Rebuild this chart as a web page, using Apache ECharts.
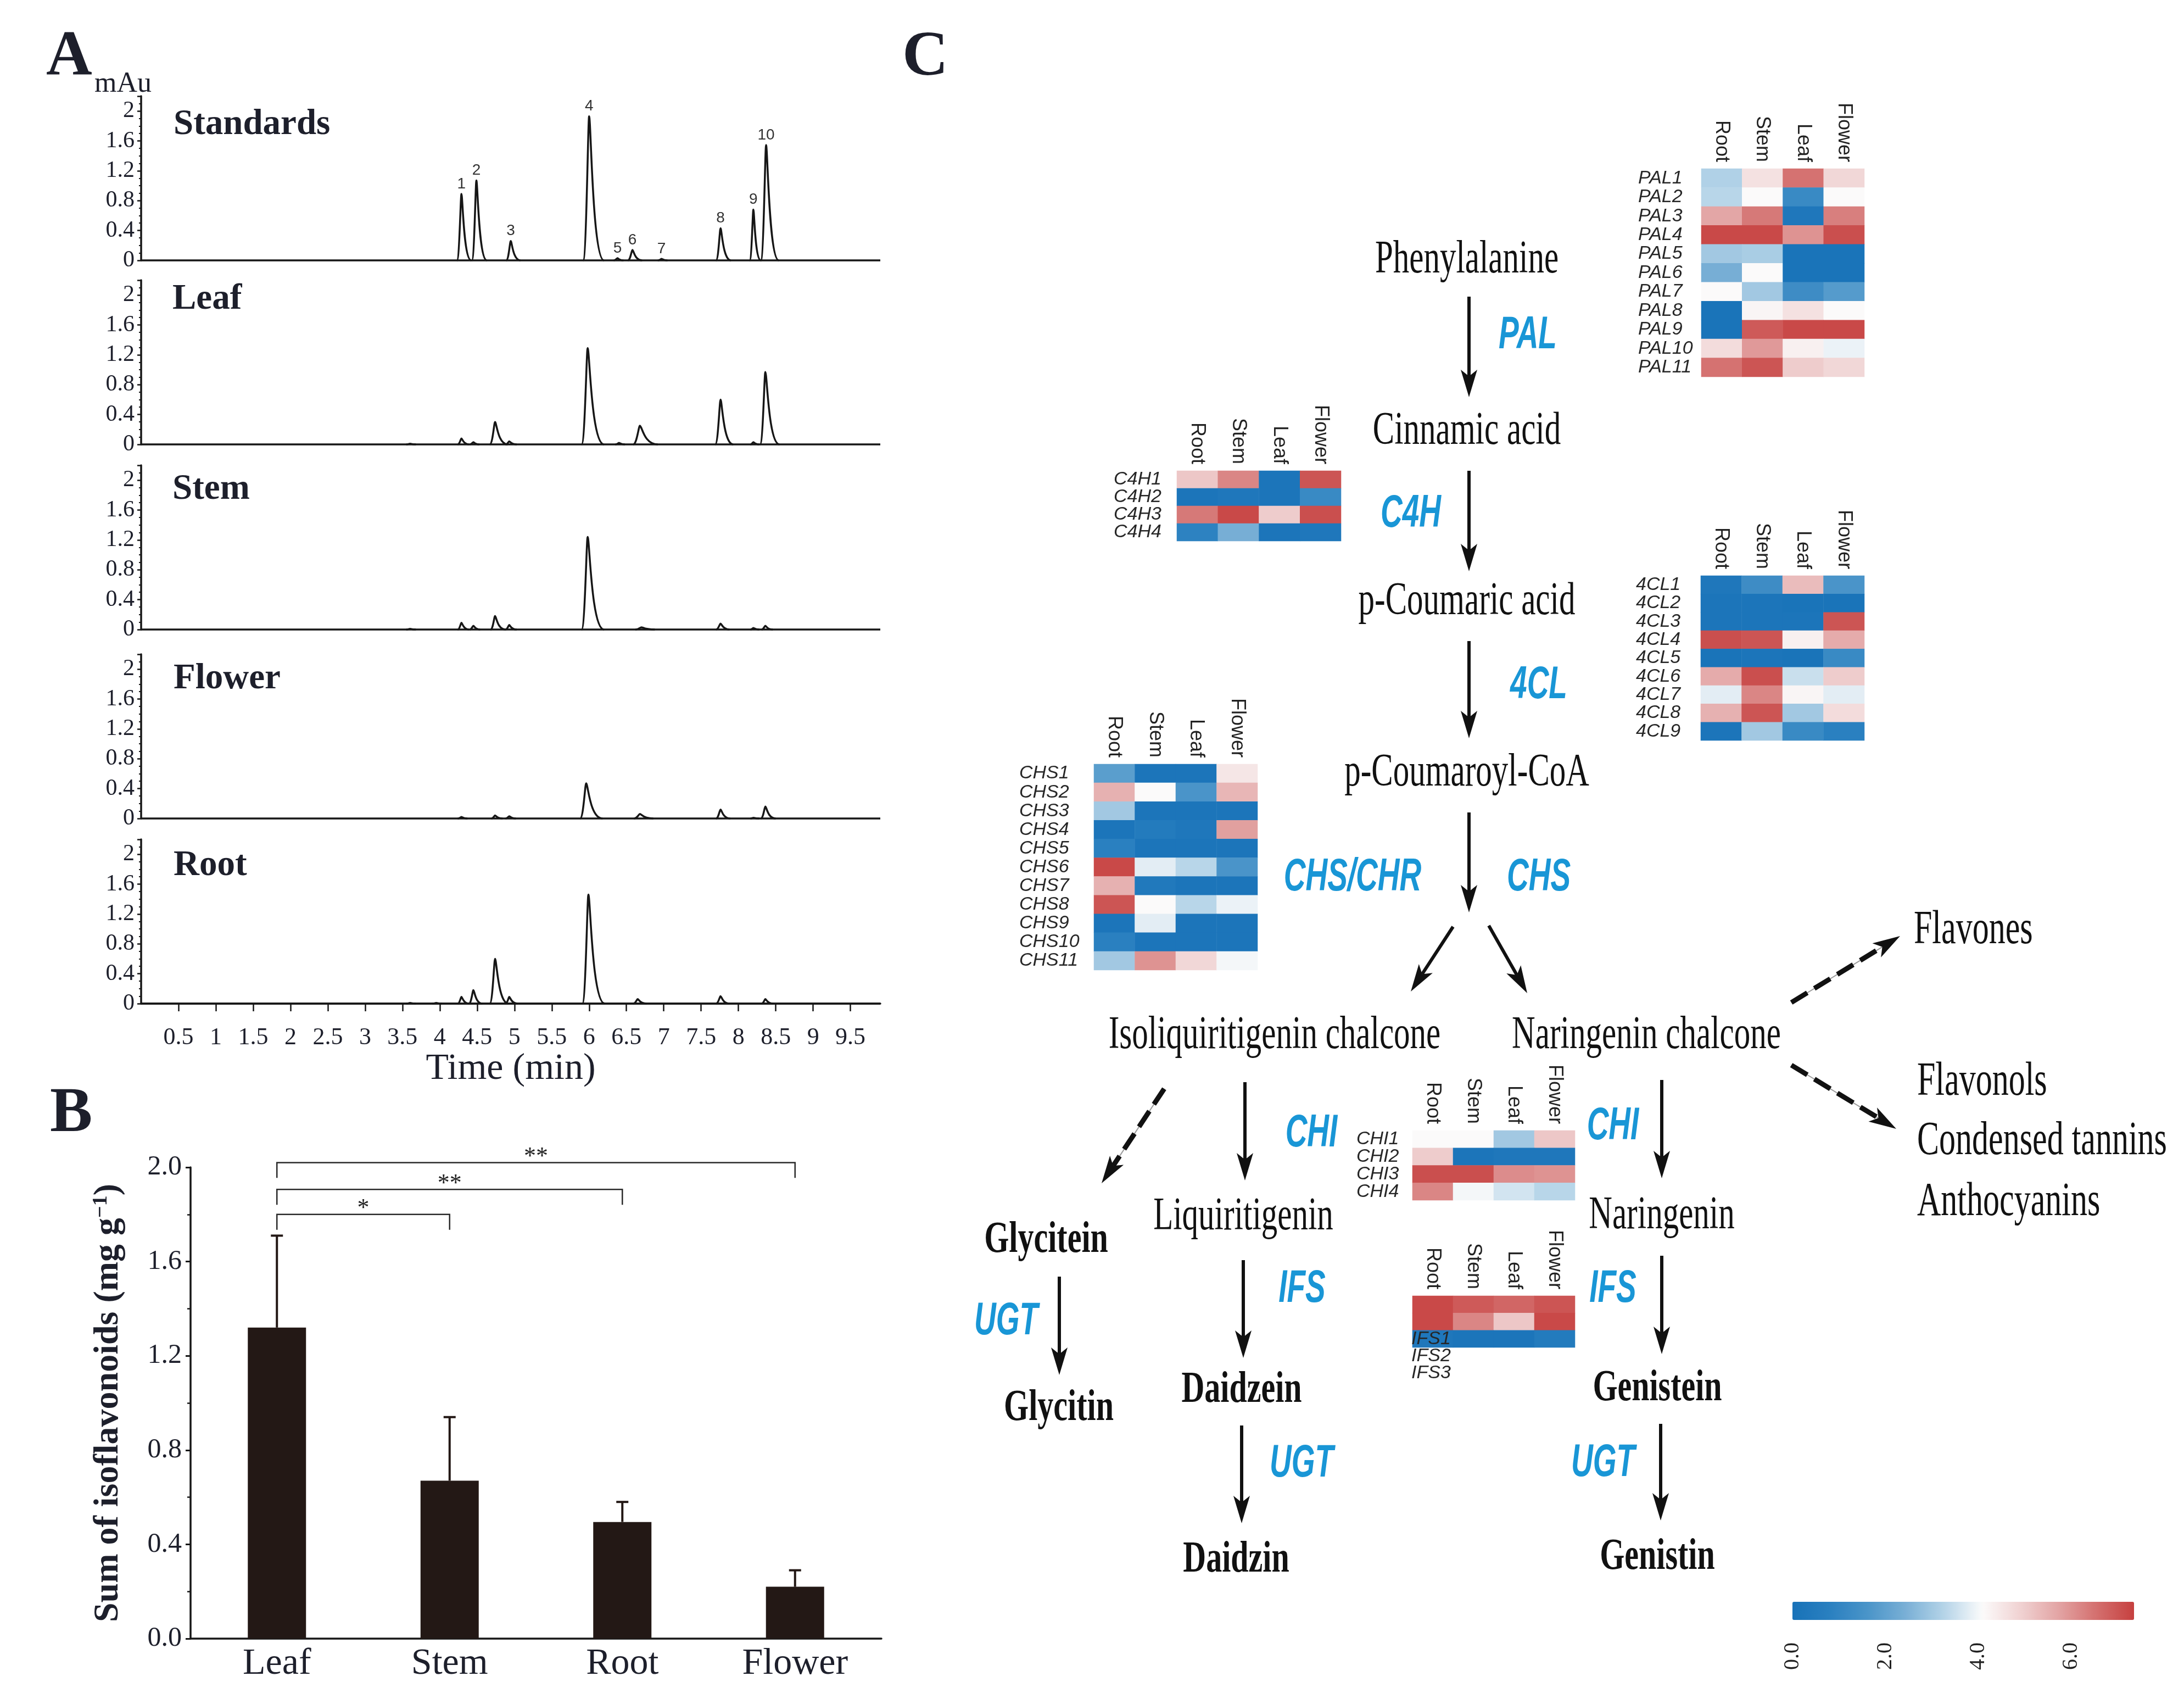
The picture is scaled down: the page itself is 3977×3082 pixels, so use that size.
<!DOCTYPE html>
<html>
<head>
<meta charset="utf-8">
<title>Isoflavonoid figure</title>
<script src="https://cdn.jsdelivr.net/npm/echarts@6.0.0/dist/echarts.min.js"></script>
<style>
html,body{margin:0;padding:0;background:#ffffff;}
#chart{width:3977px;height:3082px;}
</style>
</head>
<body>
<div id="chart"></div>
<script>
// ================= DATA =================
// ---- Panel A: HPLC chromatograms ----
const traceNames = ['Standards', 'Leaf', 'Stem', 'Flower', 'Root'];
// peaks: [retention time (min), height (mAu), left base width (min), right tail width (min)]
const peaksStandards = [
  [4.29, 0.89, 0.06, 0.13], [4.49, 1.07, 0.06, 0.14], [4.95, 0.26, 0.06, 0.13],
  [6.00, 1.93, 0.08, 0.20], [6.38, 0.03, 0.05, 0.08], [6.58, 0.14, 0.06, 0.13],
  [6.97, 0.02, 0.05, 0.08], [7.76, 0.43, 0.06, 0.14], [8.20, 0.68, 0.05, 0.10],
  [8.37, 1.545, 0.07, 0.17]
];
const standardPeakLabels = ['1', '2', '3', '4', '5', '6', '7', '8', '9', '10'];
const peaksLeaf = [
  [3.60, 0.01, 0.05, 0.08], [4.29, 0.08, 0.05, 0.10], [4.45, 0.03, 0.05, 0.08],
  [4.74, 0.30, 0.07, 0.17], [4.93, 0.04, 0.05, 0.10], [5.98, 1.29, 0.08, 0.22],
  [6.40, 0.02, 0.05, 0.08], [6.68, 0.25, 0.09, 0.24], [7.76, 0.60, 0.07, 0.17],
  [8.20, 0.03, 0.04, 0.08], [8.36, 0.97, 0.07, 0.19]
];
const peaksStem = [
  [3.60, 0.01, 0.05, 0.08], [4.29, 0.09, 0.05, 0.10], [4.45, 0.05, 0.05, 0.09],
  [4.74, 0.18, 0.06, 0.14], [4.93, 0.06, 0.05, 0.10], [5.98, 1.24, 0.08, 0.22],
  [6.70, 0.03, 0.08, 0.18], [7.76, 0.08, 0.06, 0.12], [8.20, 0.02, 0.04, 0.08],
  [8.36, 0.05, 0.05, 0.10]
];
const peaksFlower = [
  [4.29, 0.02, 0.05, 0.08], [4.74, 0.04, 0.05, 0.10], [4.93, 0.03, 0.05, 0.09],
  [5.96, 0.47, 0.08, 0.22], [6.68, 0.06, 0.08, 0.18], [7.76, 0.12, 0.06, 0.13],
  [8.20, 0.01, 0.04, 0.08], [8.36, 0.16, 0.06, 0.14]
];
const peaksRoot = [
  [3.60, 0.01, 0.05, 0.08], [3.95, 0.01, 0.05, 0.08], [4.29, 0.09, 0.05, 0.10],
  [4.45, 0.18, 0.06, 0.12], [4.74, 0.60, 0.07, 0.18], [4.93, 0.09, 0.05, 0.11],
  [5.99, 1.46, 0.08, 0.22], [6.65, 0.06, 0.06, 0.12], [7.76, 0.10, 0.06, 0.12],
  [8.36, 0.06, 0.05, 0.11]
];

// ---- Panel B: sum of isoflavonoids ----
const tissues = ['Leaf', 'Stem', 'Root', 'Flower'];
const isoSum = [1.32, 0.67, 0.495, 0.22];
const isoSd = [0.39, 0.27, 0.085, 0.07];
const sigPairs = [[0, 1], [0, 2], [0, 3]];
const sigLevels = [1.80, 1.906, 2.02];
const sigMarks = ['*', '**', '**'];
const sigDrop = 0.065;

// ---- Panel C: expression heatmaps ----
const heatCols = ['Root', 'Stem', 'Leaf', 'Flower'];
const palGenes = ['PAL1','PAL2','PAL3','PAL4','PAL5','PAL6','PAL7','PAL8','PAL9','PAL10','PAL11'];
const palValues = [
  [3.2, 4.6, 6.5, 4.8], [3.3, 4.1, 1.2, 4.1], [5.7, 6.4, 0.3, 6.3], [7.2, 7.2, 6.0, 7.1],
  [3.0, 3.1, 0.1, 0.1], [2.4, 4.1, 0.1, 0.1], [4.1, 3.0, 1.3, 1.8], [0.1, 4.2, 4.6, 4.1],
  [0.1, 6.9, 7.2, 7.2], [4.7, 5.9, 4.3, 3.9], [6.5, 7.0, 5.0, 4.8]
];
const c4hGenes = ['C4H1','C4H2','C4H3','C4H4'];
const c4hValues = [[5.1, 6.2, 0.2, 7.0], [0.2, 0.3, 0.2, 1.2], [6.4, 7.2, 5.0, 7.1], [0.9, 2.4, 0.2, 0.3]];
const fourClGenes = ['4CL1','4CL2','4CL3','4CL4','4CL5','4CL6','4CL7','4CL8','4CL9'];
const fourClValues = [
  [0.3, 1.3, 5.3, 1.6], [0.2, 0.2, 0.1, 0.1], [0.2, 0.2, 0.2, 7.0], [7.1, 7.0, 4.3, 5.6],
  [0.1, 0.2, 0.1, 1.2], [5.6, 7.1, 3.5, 5.0], [3.8, 6.2, 4.2, 3.8], [5.5, 7.0, 3.0, 4.7],
  [0.2, 3.0, 1.2, 0.8]
];
const chsGenes = ['CHS1','CHS2','CHS3','CHS4','CHS5','CHS6','CHS7','CHS8','CHS9','CHS10','CHS11'];
const chsValues = [
  [1.9, 0.2, 0.2, 4.5], [5.5, 4.1, 1.6, 5.4], [3.0, 0.2, 0.2, 0.2], [0.2, 0.5, 0.3, 5.8],
  [0.8, 0.2, 0.2, 0.2], [7.2, 3.8, 3.3, 1.6], [5.5, 0.4, 0.2, 0.2], [7.0, 4.1, 3.3, 3.9],
  [0.2, 3.8, 0.2, 0.2], [0.8, 0.2, 0.2, 0.2], [3.0, 6.0, 4.8, 4.0]
];
const chiGenes = ['CHI1','CHI2','CHI3','CHI4'];
const chiValues = [[4.1, 4.1, 3.0, 5.1], [5.0, 0.2, 0.3, 0.3], [7.1, 7.1, 6.1, 6.0], [6.2, 4.0, 3.6, 3.3]];
const ifsGenes = ['IFS1','IFS2','IFS3'];
const ifsValues = [[7.2, 6.9, 6.7, 7.0], [7.2, 6.2, 5.1, 7.2], [0.3, 0.2, 0.2, 0.5]];
const colorScaleMin = 0;
const colorScaleMax = 7.35;

// ---- Panel C: pathway ----
const compoundsRegular = ['Phenylalanine', 'Cinnamic acid', 'p-Coumaric acid', 'p-Coumaroyl-CoA',
  'Isoliquiritigenin chalcone', 'Naringenin chalcone', 'Liquiritigenin', 'Naringenin'];
const compoundsSide = ['Flavones', 'Flavonols', 'Condensed tannins', 'Anthocyanins'];
const compoundsBold = ['Glycitein', 'Glycitin', 'Daidzein', 'Daidzin', 'Genistein', 'Genistin'];
const enzymes = ['PAL', 'C4H', '4CL', 'CHS/CHR', 'CHS', 'CHI', 'CHI', 'IFS', 'IFS', 'UGT', 'UGT', 'UGT'];

// ================= LAYOUT / STYLE =================
const SERIF = '"Liberation Serif", "Times New Roman", serif';
const SANS = '"Liberation Sans", Arial, sans-serif';
const TXT = '#1d1f2b';
const INK = '#161616';
const BLUE = '#1996d6';

const layoutA = { left: 257, width: 1346, height: 299, bottoms: [474, 809, 1146, 1490, 1827],
  labelPos: [[316, 227], [314, 545], [314, 891], [316, 1236], [316, 1576]] };
const layoutB = { left: 347, top: 2125, width: 1258, height: 858 };
const heatBoxes = [
  { left: 3098, top: 307, width: 297, height: 379, labelStart: 2983 },
  { left: 2143, top: 857, width: 299, height: 128, labelStart: 2028 },
  { left: 3097, top: 1048, width: 298, height: 300, labelStart: 2979 },
  { left: 1992, top: 1391, width: 298, height: 375, labelStart: 1856 },
  { left: 2572, top: 2058, width: 296, height: 127, labelStart: 2470 },
  { left: 2572, top: 2359, width: 296, height: 94, labelStart: null }
];
const colorBarBox = { left: 3264, top: 2916, length: 622, thickness: 33 };

const grid = [], xAxis = [], yAxis = [], series = [], graphic = [];

// ================= PANEL A =================
const traces = [peaksStandards, peaksLeaf, peaksStem, peaksFlower, peaksRoot];

function peakRender(params, api) {
  const t = api.value(0), h = api.value(1), wl = api.value(2), wr = api.value(3);
  const p0 = api.coord([t - wl, 0]), pa = api.coord([t, h]), p1 = api.coord([t + wr, 0]);
  const dl = pa[0] - p0[0], dr = p1[0] - pa[0];
  const d = 'M' + p0[0] + ',' + p0[1] +
    ' C' + (p0[0] + 0.55 * dl) + ',' + p0[1] + ' ' + (pa[0] - 0.18 * dl) + ',' + pa[1] + ' ' + pa[0] + ',' + pa[1] +
    ' C' + (pa[0] + 0.12 * dr) + ',' + pa[1] + ' ' + (pa[0] + 0.22 * dr) + ',' + p1[1] + ' ' + p1[0] + ',' + p1[1];
  return { type: 'path', shape: { pathData: d }, style: { fill: 'none', stroke: INK, lineWidth: 3.5 } };
}

traces.forEach(function (pk, i) {
  const last = i === traces.length - 1;
  grid.push({ left: layoutA.left, width: layoutA.width, top: layoutA.bottoms[i] - layoutA.height,
    height: layoutA.height, containLabel: false, outerBoundsMode: 'none' });
  xAxis.push({
    type: 'value', gridIndex: i, min: 0, max: 9.9, interval: 0.5, show: last, offset: last ? 10 : 0,
    axisLine: { show: true, lineStyle: { color: INK, width: 3.5 } },
    axisTick: { show: true, length: 14, lineStyle: { color: INK, width: 2.5 } },
    axisLabel: { showMinLabel: false, showMaxLabel: false, fontFamily: SERIF, fontSize: 44, color: TXT, margin: 30,
      formatter: function (v) { return String(v); } },
    splitLine: { show: false },
    name: last ? 'Time (min)' : '', nameLocation: 'middle', nameGap: 74,
    nameTextStyle: { fontFamily: SERIF, fontSize: 68, color: TXT, verticalAlign: 'top' }
  });
  yAxis.push({
    type: 'value', gridIndex: i, min: 0, max: 2.2, interval: 0.4,
    axisLine: { show: true, lineStyle: { color: INK, width: 3.5 } },
    axisTick: { show: true, length: 7, lineStyle: { color: INK, width: 2.5 } },
    minorTick: { show: true, splitNumber: 4, length: 4, lineStyle: { color: INK, width: 2 } },
    axisLabel: { fontFamily: SERIF, fontSize: 42, color: TXT, margin: 12,
      formatter: function (v) { return v > 2.1 ? '' : String(v); } },
    splitLine: { show: false }, minorSplitLine: { show: false }
  });
  series.push({
    type: 'custom', name: traceNames[i], xAxisIndex: i, yAxisIndex: i, data: pk,
    encode: { x: 0, y: 1 }, renderItem: peakRender, silent: true, z: 3,
    markLine: { silent: true, symbol: ['none', 'none'], label: { show: false },
      lineStyle: { color: INK, width: 3.5, type: 'solid' }, data: [{ yAxis: 0 }] }
  });
  graphic.push({ type: 'text', x: layoutA.labelPos[i][0], y: layoutA.labelPos[i][1], z: 100,
    style: { text: traceNames[i], font: 'bold 65px ' + SERIF, fill: TXT,
      textAlign: 'left', textVerticalAlign: 'middle', align: 'left', verticalAlign: 'middle' } });
});

// peak number labels on the standards trace
series.push({
  type: 'custom', xAxisIndex: 0, yAxisIndex: 0, data: peaksStandards, encode: { x: 0, y: 1 }, silent: true, z: 4,
  renderItem: function (params, api) {
    const p = api.coord([api.value(0), api.value(1)]);
    return { type: 'text', x: p[0], y: p[1] - 4,
      style: { text: standardPeakLabels[params.dataIndex], font: '28px ' + SANS, fill: '#333',
        textAlign: 'center', textVerticalAlign: 'bottom', align: 'center', verticalAlign: 'bottom' } };
  }
});

// ================= PANEL B =================
const gB = grid.length;
grid.push({ left: layoutB.left, top: layoutB.top, width: layoutB.width, height: layoutB.height,
  containLabel: false, outerBoundsMode: 'none' });
xAxis.push({
  type: 'category', gridIndex: gB, data: tissues,
  axisLine: { show: true, lineStyle: { color: INK, width: 3.5 } }, axisTick: { show: false },
  axisLabel: { interval: 0, fontFamily: SERIF, fontSize: 68, color: TXT, margin: 12 }
});
yAxis.push({
  type: 'value', gridIndex: gB, min: 0, max: 2.0, interval: 0.4,
  axisLine: { show: true, lineStyle: { color: INK, width: 3.5 } },
  axisTick: { show: true, length: 9, lineStyle: { color: INK, width: 3 } },
  minorTick: { show: true, splitNumber: 2, length: 6, lineStyle: { color: INK, width: 2.5 } },
  axisLabel: { fontFamily: SERIF, fontSize: 50, color: TXT, margin: 16, formatter: function (v) { return v.toFixed(1); } },
  splitLine: { show: false }, minorSplitLine: { show: false },
  name: 'Sum of isoflavonoids (mg g{sup|\u22121})', nameLocation: 'middle', nameRotate: 90, nameGap: 118,
  nameTextStyle: { fontFamily: SERIF, fontSize: 64, fontWeight: 'bold', color: TXT,
    rich: { sup: { fontFamily: SERIF, fontSize: 38, fontWeight: 'bold', color: TXT, verticalAlign: 'top', padding: [0, 0, 22, 0] } } }
});
series.push({
  type: 'bar', xAxisIndex: gB, yAxisIndex: gB, data: isoSum, barWidth: 106,
  itemStyle: { color: '#231815' }, silent: true, z: 2
});
series.push({
  type: 'custom', xAxisIndex: gB, yAxisIndex: gB, silent: true, z: 3,
  data: isoSum.map(function (v, i) { return [i, v, isoSd[i]]; }), encode: { x: 0, y: 1 },
  renderItem: function (params, api) {
    const i = api.value(0), m = api.value(1), s = api.value(2);
    const p = api.coord([i, m]), q = api.coord([i, m + s]);
    return { type: 'group', children: [
      { type: 'line', shape: { x1: p[0], y1: p[1], x2: q[0], y2: q[1] }, style: { stroke: '#231815', lineWidth: 4 } },
      { type: 'line', shape: { x1: q[0] - 11, y1: q[1], x2: q[0] + 11, y2: q[1] }, style: { stroke: '#231815', lineWidth: 4 } }
    ] };
  }
});
series.push({
  type: 'custom', xAxisIndex: gB, yAxisIndex: gB, silent: true, z: 3,
  data: sigPairs.map(function (p, k) { return [p[0], sigLevels[k], p[1]]; }), encode: { x: 0, y: 1 },
  renderItem: function (params, api) {
    const i0 = api.value(0), yl = api.value(1), i1 = api.value(2);
    const a = api.coord([i0, yl]), b = api.coord([i1, yl]);
    const dropY = api.coord([i0, yl - sigDrop])[1];
    return { type: 'group', children: [
      { type: 'polyline', shape: { points: [[a[0], dropY], [a[0], a[1]], [b[0], b[1]], [b[0], dropY]] },
        style: { stroke: '#2a2a2a', lineWidth: 2.5, fill: 'none' } },
      { type: 'text', x: (a[0] + b[0]) / 2, y: a[1] - 10,
        style: { text: sigMarks[params.dataIndex], font: '44px ' + SERIF, fill: '#222',
          textAlign: 'center', textVerticalAlign: 'middle', align: 'center', verticalAlign: 'middle' } }
    ] };
  }
});

// ================= PANEL C: heatmaps =================
const heatSets = [
  [palGenes, palValues], [c4hGenes, c4hValues], [fourClGenes, fourClValues],
  [chsGenes, chsValues], [chiGenes, chiValues], [ifsGenes, ifsValues]
];
const heatSeriesIdx = [];
heatSets.forEach(function (set, k) {
  const box = heatBoxes[k];
  const gi = grid.length;
  grid.push({ left: box.left, top: box.top, width: box.width, height: box.height, containLabel: false, outerBoundsMode: 'none' });
  xAxis.push({
    type: 'category', gridIndex: gi, data: heatCols, position: 'top',
    axisLine: { show: false }, axisTick: { show: false }, splitLine: { show: false },
    axisLabel: { interval: 0, rotate: 90, fontFamily: SANS, fontSize: 36, color: '#222', margin: 12 }
  });
  yAxis.push({
    type: 'category', gridIndex: gi, data: set[0], inverse: true,
    axisLine: { show: false }, axisTick: { show: false }, splitLine: { show: false },
    axisLabel: { show: box.labelStart !== null, interval: 0, fontFamily: SANS, fontStyle: 'italic', fontSize: 34,
      color: '#262626', align: 'left', margin: box.labelStart !== null ? box.left - box.labelStart : 0 }
  });
  const data = [];
  set[1].forEach(function (row, r) { row.forEach(function (v, c) { data.push([c, r, v]); }); });
  heatSeriesIdx.push(series.length);
  series.push({ type: 'heatmap', xAxisIndex: gi, yAxisIndex: gi, data: data, silent: true,
    itemStyle: { borderWidth: 0 }, emphasis: { disabled: true }, progressive: 0 });
});

// IFS gene names sit below/over the block, as in the source figure
const ifsBox = heatBoxes[5];
const ifsRowH = ifsBox.height / ifsGenes.length;
ifsGenes.forEach(function (g, r) {
  graphic.push({ type: 'text', x: ifsBox.left - 2, y: ifsBox.top + ifsRowH * (r + 2.5), z: 100, zlevel: 1,
    style: { text: g, font: 'italic 34px ' + SANS, fill: '#262626',
      textAlign: 'left', textVerticalAlign: 'middle', align: 'left', verticalAlign: 'middle' } });
});

// colour bar tick labels via an axis
const gCb = grid.length;
grid.push({ left: colorBarBox.left, width: colorBarBox.length, top: colorBarBox.top + colorBarBox.thickness + 6,
  height: 1, containLabel: false, outerBoundsMode: 'none' });
xAxis.push({
  type: 'value', gridIndex: gCb, min: colorScaleMin, max: colorScaleMax, interval: 2,
  axisLine: { show: false }, axisTick: { show: false }, splitLine: { show: false },
  axisLabel: { rotate: 90, showMaxLabel: false, fontFamily: SERIF, fontSize: 40, color: '#222', margin: 34,
    formatter: function (v) { return v.toFixed(1); } }
});
yAxis.push({ type: 'value', gridIndex: gCb, show: false });

// ================= PANEL C: pathway graphics =================
function arrow(x1, y1, x2, y2, dashed) {
  const dx = x2 - x1, dy = y2 - y1, L = Math.hypot(dx, dy), ux = dx / L, uy = dy / L, px = -uy, py = ux;
  const hl = 50, hw = 15, notch = 12;
  const bx = x2 - ux * hl, by = y2 - uy * hl;
  const nx = x2 - ux * (hl - notch), ny = y2 - uy * (hl - notch);
  const els = [];
  if (dashed) {
    els.push({ type: 'line', shape: { x1: x1, y1: y1, x2: nx, y2: ny }, style: { stroke: '#9a9a9a', lineWidth: 2 } });
    els.push({ type: 'line', shape: { x1: x1, y1: y1, x2: nx, y2: ny }, style: { stroke: '#111', lineWidth: 9, lineDash: [34, 15] } });
  } else {
    els.push({ type: 'line', shape: { x1: x1, y1: y1, x2: nx, y2: ny }, style: { stroke: '#111', lineWidth: 6 } });
  }
  els.push({ type: 'polygon', shape: { points: [[x2, y2], [bx + px * hw, by + py * hw], [nx, ny], [bx - px * hw, by - py * hw]] },
    style: { fill: '#111' } });
  return els;
}
const arrowsSolid = [
  [2675, 540, 2675, 723], [2675, 857, 2675, 1040], [2675, 1167, 2675, 1344], [2675, 1479, 2675, 1661],
  [2646, 1687, 2569, 1805], [2711, 1685, 2781, 1808],
  [2267, 1970, 2267, 2149], [3026, 1966, 3026, 2145],
  [1929, 2324, 1929, 2503], [2264, 2294, 2264, 2472], [2261, 2595, 2261, 2773],
  [3026, 2286, 3026, 2465], [3024, 2592, 3024, 2768]
];
const arrowsDashed = [[3262, 1825, 3460, 1704], [3262, 1939, 3453, 2055], [2120, 1982, 2006, 2154]];
arrowsSolid.forEach(function (a) { arrow(a[0], a[1], a[2], a[3], false).forEach(function (e) { graphic.push(e); }); });
arrowsDashed.forEach(function (a) { arrow(a[0], a[1], a[2], a[3], true).forEach(function (e) { graphic.push(e); }); });

function stretchedText(txt, x, y, font, fill, align, sy) {
  return { type: 'text', x: x, y: y, scaleY: sy, z: 100,
    style: { text: txt, font: font, fill: fill, textAlign: align, textVerticalAlign: 'middle', align: align, verticalAlign: 'middle' } };
}
const regularPos = [[2671, 474], [2671, 786], [2671, 1096], [2671, 1408], [2321, 1886], [2998, 1886], [2264, 2216], [3026, 2214]];
compoundsRegular.forEach(function (t, k) {
  graphic.push(stretchedText(t, regularPos[k][0], regularPos[k][1], '59px ' + SERIF, '#111', 'center', 1.45));
});
const sidePos = [[3485, 1694], [3491, 1970], [3491, 2078], [3491, 2189]];
compoundsSide.forEach(function (t, k) {
  graphic.push(stretchedText(t, sidePos[k][0], sidePos[k][1], '60px ' + SERIF, '#111', 'left', 1.45));
});
const boldPos = [[1905, 2258], [1928, 2564], [2261, 2531], [2251, 2840], [3018, 2528], [3018, 2835]];
compoundsBold.forEach(function (t, k) {
  graphic.push(stretchedText(t, boldPos[k][0], boldPos[k][1], 'bold 58px ' + SERIF, '#111', 'center', 1.4));
});
const enzymePos = [[2782, 611], [2569, 936], [2802, 1248], [2463, 1598], [2802, 1598], [2388, 2064], [2937, 2051],
  [2371, 2347], [2937, 2347], [1832, 2406], [2370, 2665], [2919, 2664]];
enzymes.forEach(function (t, k) {
  graphic.push(stretchedText(t, enzymePos[k][0], enzymePos[k][1], 'italic bold 55px ' + SANS, BLUE, 'center', 1.5));
});

// panel letters and units
[['A', 84, 105], ['B', 91, 2029], ['C', 1643, 106]].forEach(function (l) {
  graphic.push({ type: 'text', x: l[1], y: l[2], z: 100,
    style: { text: l[0], font: 'bold 116px ' + SERIF, fill: TXT, textAlign: 'left', textVerticalAlign: 'middle', align: 'left', verticalAlign: 'middle' } });
});
graphic.push({ type: 'text', x: 172, y: 153, z: 100,
  style: { text: 'mAu', font: '52px ' + SERIF, fill: TXT, textAlign: 'left', textVerticalAlign: 'middle', align: 'left', verticalAlign: 'middle' } });

// ================= OPTION =================
const option = {
  animation: false,
  backgroundColor: '#ffffff',
  grid: grid, xAxis: xAxis, yAxis: yAxis, series: series,
  visualMap: {
    type: 'continuous', min: colorScaleMin, max: colorScaleMax, orient: 'horizontal',
    left: colorBarBox.left, top: colorBarBox.top, itemWidth: colorBarBox.thickness, itemHeight: colorBarBox.length,
    calculable: false, hoverLink: false, padding: 0, seriesIndex: heatSeriesIdx,
    inRange: { color: ['#1872b8', '#2a80c0', '#4b95c9', '#7ab0d6', '#b5d4e8', '#fbfbfb', '#f0d2d2', '#e3a5a5', '#d4706f', '#c6403f'] }
  },
  graphic: { elements: graphic }
};
const chart = echarts.init(document.getElementById('chart'), null, { renderer: 'canvas' });
chart.setOption(option);
</script>
</body>
</html>
